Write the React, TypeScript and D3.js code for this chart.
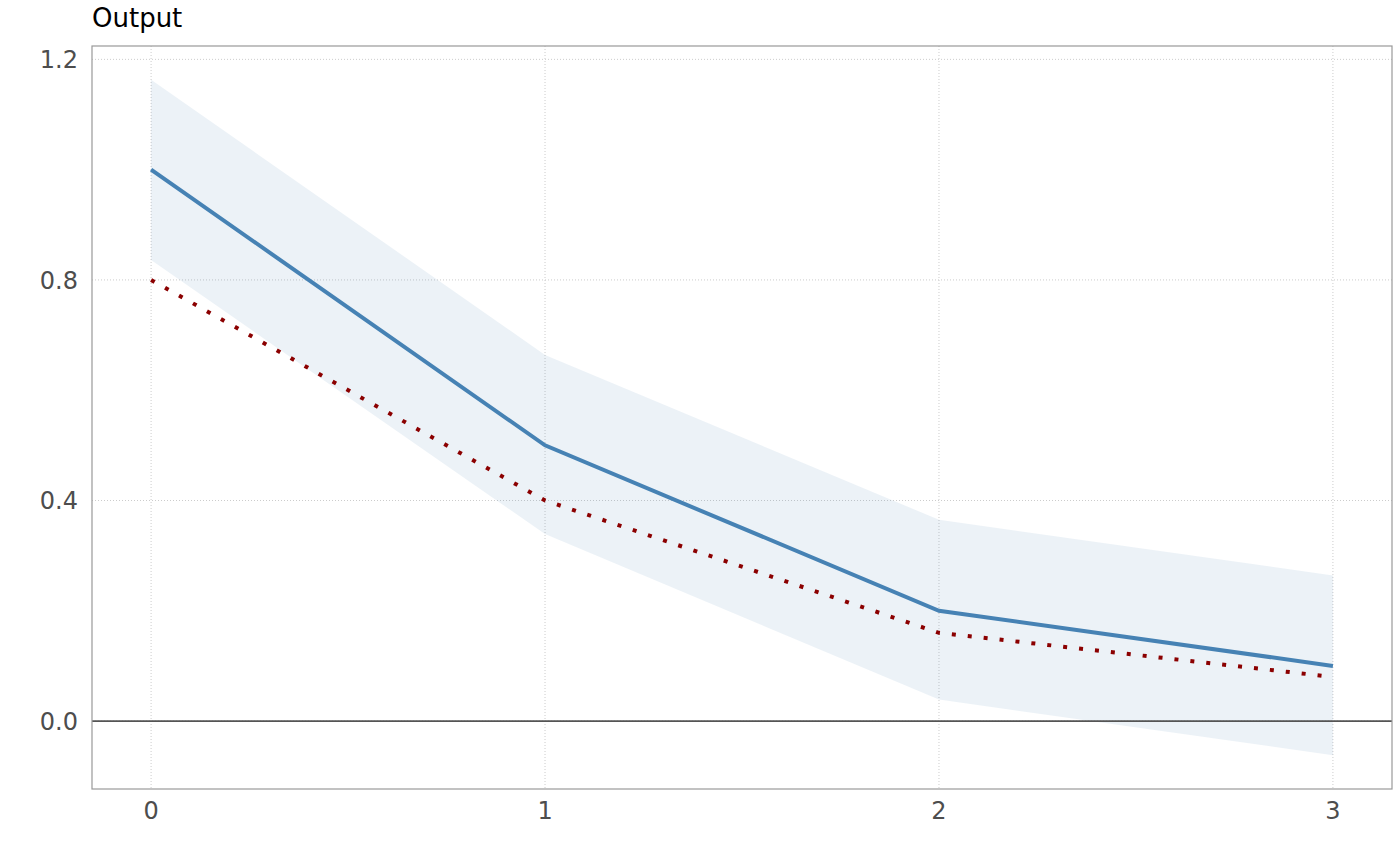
import { useEffect, useRef } from 'react';
import * as d3 from 'd3';

const horizons = [0, 1, 2, 3];
const response = [1.0, 0.5, 0.2, 0.1];
const responseAlt = [0.8, 0.4, 0.16, 0.08];
const upperBand = [1.163, 0.664, 0.365, 0.264];
const lowerBand = [0.836, 0.339, 0.039, -0.062];
const yTicks = [0.0, 0.4, 0.8, 1.2];

const App: React.FC = () => {
  const ref = useRef<SVGSVGElement>(null);

  useEffect(() => {
    const width = 1400;
    const height = 866;
    const margin = { top: 46, right: 8, bottom: 77, left: 92 };
    const innerW = width - margin.left - margin.right;
    const innerH = height - margin.top - margin.bottom;

    const svg = d3.select(ref.current);
    svg.selectAll('*').remove();
    svg.attr('width', width).attr('height', height);

    const g = svg.append('g')
      .attr('transform', `translate(${margin.left},${margin.top})`);

    const yMin = d3.min(lowerBand) || 0;
    const yMax = d3.max(upperBand) || 1;
    const yPad = (yMax - yMin) * 0.05;
    const y = d3.scaleLinear()
      .domain([yMin - yPad, yMax + yPad])
      .range([innerH, 0]);

    const x = d3.scaleLinear()
      .domain([-0.15, 3.15])
      .range([0, innerW]);

    const font = '"DejaVu Sans", sans-serif';

    // grid
    g.selectAll('.hgrid')
      .data(yTicks)
      .enter()
      .append('line')
      .attr('x1', 0)
      .attr('x2', innerW)
      .attr('y1', (d) => y(d))
      .attr('y2', (d) => y(d))
      .attr('stroke', '#cccccc')
      .attr('stroke-width', 1)
      .attr('stroke-dasharray', '1,2');

    g.selectAll('.vgrid')
      .data(horizons)
      .enter()
      .append('line')
      .attr('x1', (d) => x(d))
      .attr('x2', (d) => x(d))
      .attr('y1', 0)
      .attr('y2', innerH)
      .attr('stroke', '#cccccc')
      .attr('stroke-width', 1)
      .attr('stroke-dasharray', '1,2');

    const rows = horizons.map((h, i) => ({
      h,
      lo: lowerBand[i],
      hi: upperBand[i],
    }));

    // confidence band
    const area = d3.area<typeof rows[number]>()
      .x((d) => x(d.h))
      .y0((d) => y(d.lo))
      .y1((d) => y(d.hi));

    g.append('path')
      .datum(rows)
      .attr('d', area)
      .attr('fill', '#4682b4')
      .attr('fill-opacity', 0.1);

    // zero line
    g.append('line')
      .attr('x1', 0)
      .attr('x2', innerW)
      .attr('y1', y(0))
      .attr('y2', y(0))
      .attr('stroke', '#555')
      .attr('stroke-width', 1.8);

    const line = d3.line<number>()
      .x((_, i) => x(horizons[i]))
      .y((d) => y(d));

    g.append('path')
      .datum(responseAlt)
      .attr('d', line)
      .attr('fill', 'none')
      .attr('stroke', '#8b0000')
      .attr('stroke-width', 4)
      .attr('stroke-dasharray', '4,12');

    g.append('path')
      .datum(response)
      .attr('d', line)
      .attr('fill', 'none')
      .attr('stroke', '#4682b4')
      .attr('stroke-width', 4);

    // panel border
    g.append('rect')
      .attr('x', 0)
      .attr('y', 0)
      .attr('width', innerW)
      .attr('height', innerH)
      .attr('fill', 'none')
      .attr('stroke', '#999')
      .attr('stroke-width', 1.2);

    // y tick labels
    g.selectAll('.ylab')
      .data(yTicks)
      .enter()
      .append('text')
      .attr('x', -14)
      .attr('y', (d) => y(d))
      .attr('dy', '0.36em')
      .attr('text-anchor', 'end')
      .attr('font-family', font)
      .attr('font-size', 24)
      .attr('fill', '#4d4d4d')
      .text((d) => d3.format('.1f')(d));

    // x tick labels
    g.selectAll('.xlab')
      .data(horizons)
      .enter()
      .append('text')
      .attr('x', (d) => x(d))
      .attr('y', innerH + 30)
      .attr('text-anchor', 'middle')
      .attr('font-family', font)
      .attr('font-size', 24)
      .attr('fill', '#4d4d4d')
      .text((d) => String(d));

    svg.append('text')
      .attr('x', margin.left)
      .attr('y', 27)
      .attr('font-family', font)
      .attr('font-size', 26)
      .attr('fill', '#000')
      .text('Output');
  }, []);

  return (
    <div style={{ position: 'absolute', left: 0, top: 0 }}>
      <svg ref={ref}></svg>
    </div>
  );
};

export default App;
